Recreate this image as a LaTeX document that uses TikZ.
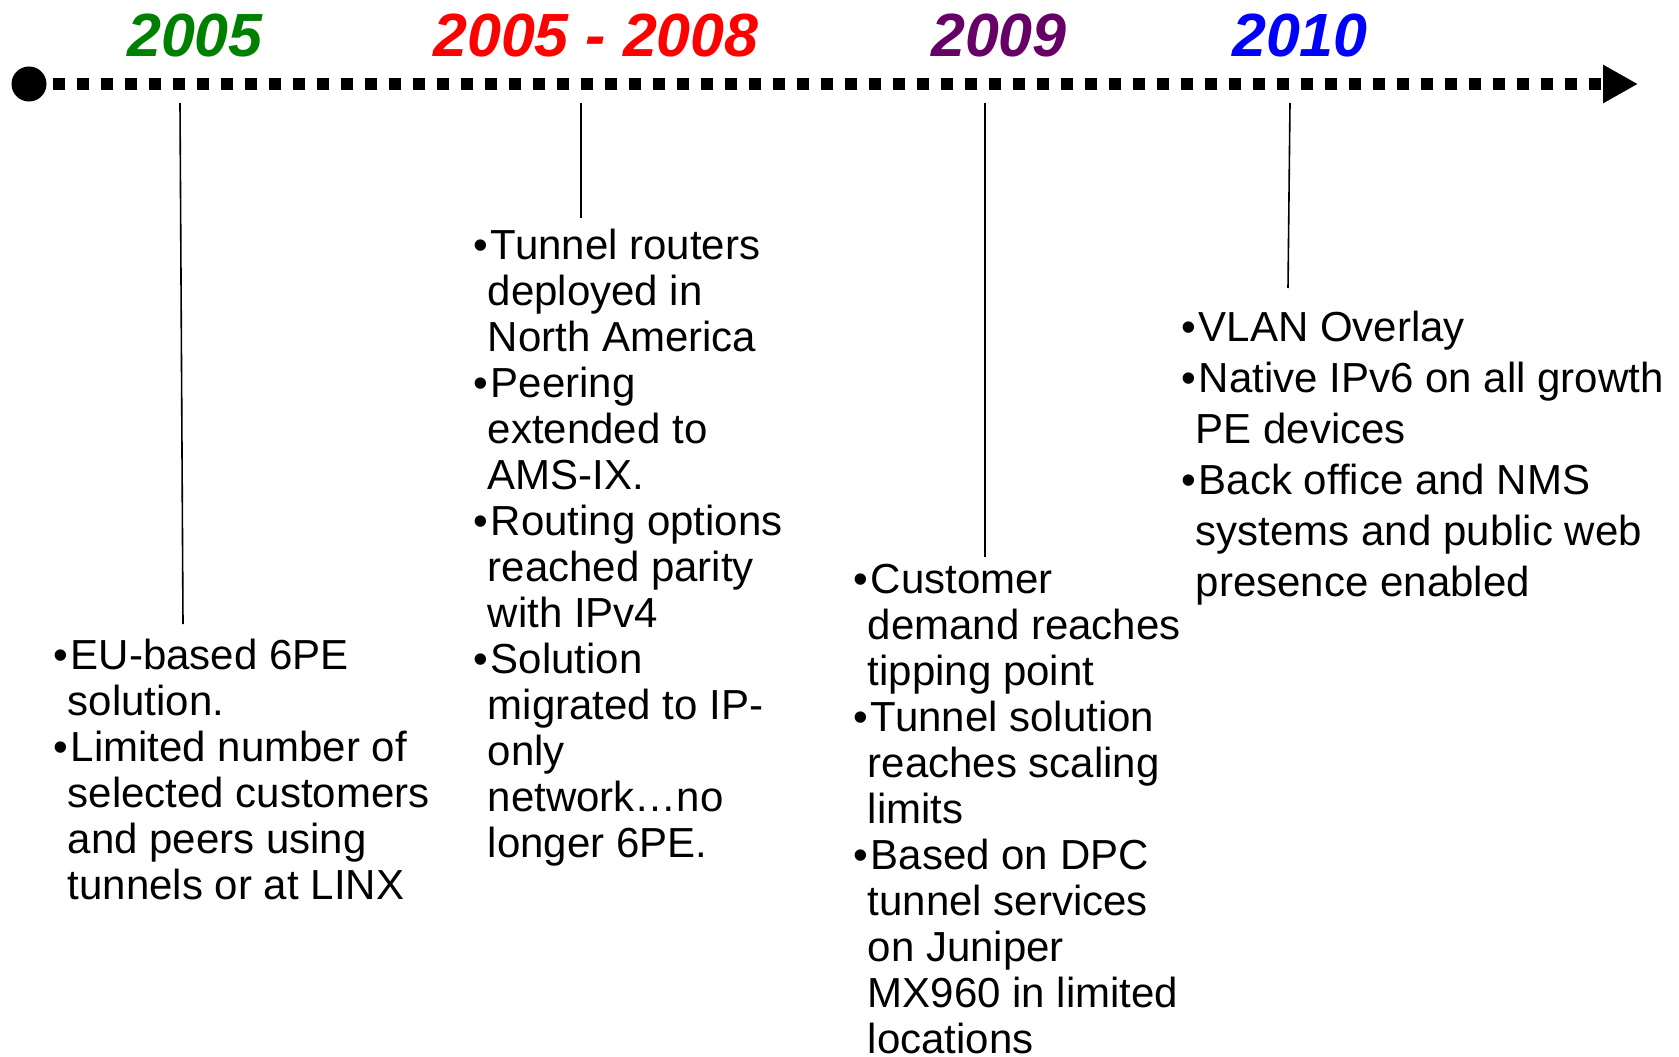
\documentclass[tikz,border=0pt]{standalone}
\usepackage{fontspec}
\setmainfont{Liberation Sans}
\usetikzlibrary{arrows.meta}

\definecolor{yrgreen}{RGB}{0,128,0}
\definecolor{yrred}{RGB}{255,0,0}
\definecolor{yrpurple}{RGB}{102,0,102}
\definecolor{yrblue}{RGB}{0,0,255}

\newcommand{\bul}{•\hspace{3pt}}
\newcommand{\ind}{\hphantom{•}}

\begin{document}
\begin{tikzpicture}[x=1pt,y=-1pt,
  year/.style={anchor=base, inner sep=0pt, font=\fontsize{61}{61}\selectfont\bfseries\itshape},
  notes/.style={anchor=base west, inner sep=0pt, align=left, font=\fontsize{42}{46}\selectfont},
  stem/.style={line width=1.6pt}]
  \useasboundingbox (0,0) rectangle (1679,1057);

  % time axis
  \node[circle, fill, inner sep=0pt, minimum size=35pt] (origin) at (29,84) {};
  \coordinate (tip) at (1638,84);
  \draw[line width=12pt, dash pattern=on 12pt off 12pt, -{Triangle[length=35pt,width=36pt]}]
    ([xshift=6pt]origin.east) -- (tip);

  % years
  \node[year, yrgreen]  (y05) at (195,57) {2005};
  \node[year, yrred]    (y08) at (596,57) {2005 - 2008};
  \node[year, yrpurple] (y09) at (999,57) {2009};
  \node[year, yrblue]   (y10) at (1300,57) {2010};

  % stems
  \coordinate (s05) at (180,103); \coordinate (e05) at (183,624);
  \coordinate (s08) at (581,103); \coordinate (e08) at (581,218);
  \coordinate (s09) at (985,103); \coordinate (e09) at (985,557);
  \coordinate (s10) at (1290,103); \coordinate (e10) at (1288,288);
  \draw[stem] (s05) -- (e05);
  \draw[stem] (s08) -- (e08);
  \draw[stem] (s09) -- (e09);
  \draw[stem] (s10) -- (e10);

  % notes (anchored on the baseline of their last line)
  \node[notes] (n05) at (53,899) {\bul EU-based 6PE\\ \ind solution.\\ \bul Limited number of\\
    \ind selected customers\\ \ind and peers using\\ \ind tunnels or at LINX};
  \node[notes] (n08) at (473,857) {\bul Tunnel routers\\ \ind deployed in\\ \ind North America\\
    \bul Peering\\ \ind extended to\\ \ind AMS-IX.\\ \bul Routing options\\ \ind reached parity\\
    \ind with IPv4\\ \bul Solution\\ \ind migrated to IP-\\ \ind only\\ \ind network…no\\
    \ind longer 6PE.};
  \node[notes] (n09) at (853,1053) {\bul Customer\\ \ind demand reaches\\ \ind tipping point\\
    \bul Tunnel solution\\ \ind reaches scaling\\ \ind limits\\ \bul Based on DPC\\
    \ind tunnel services\\ \ind on Juniper\\ \ind MX960 in limited\\ \ind locations};
  \node[notes, font=\fontsize{42}{51}\selectfont] (n10) at (1181,596) {\bul VLAN Overlay\\
    \bul Native IPv6 on all growth\\ \ind PE devices\\ \bul Back office and NMS\\
    \ind systems and public web\\ \ind presence enabled};
\end{tikzpicture}
\end{document}
